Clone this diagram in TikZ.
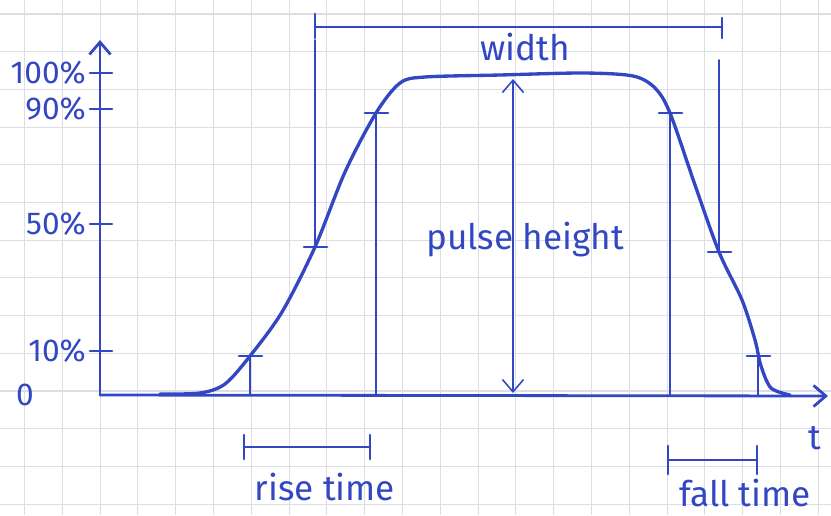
\documentclass[tikz,border=0pt]{standalone}
\usepackage{fontspec}
\setmainfont{Fira Sans}
\usetikzlibrary{arrows.meta}
\definecolor{ink}{HTML}{3347C2}
\definecolor{paper}{HTML}{DDDEE4}

\begin{document}
\begin{tikzpicture}[x=0.02cm,y=-0.02cm,
    pen/.style={ink,line width=1.6pt,line cap=round},
    fine/.style={ink,line width=0.9pt,line cap=round},
    barb/.style={-{Straight Barb[length=7pt,width=12pt]}},
    lbl/.style={ink,font=\fontsize{20}{24}\selectfont},
    pct/.style={ink,font=\fontsize{18}{21}\selectfont,anchor=east}]
    \useasboundingbox (0,0) rectangle (831,515);
    % squared paper
    \foreach \i in {0,...,21}
      \draw[paper,line width=0.6pt] (24.5+37.8*\i,0) -- ++(0,515);
    \foreach \j in {0,...,13}
      \draw[paper,line width=0.6pt] (0,14+37.7*\j) -- ++(831,0);

    % axes
    \coordinate (o) at (100,395);
    \coordinate (ytop) at (100,40);
    \coordinate (xend) at (828,396);
    \draw[pen,barb] (o) -- (ytop);
    \draw[pen,barb] (o) -- (xend);
    \node[ink,font=\fontsize{18}{21}\selectfont] (zero) at (25,395) {0};
    \node[lbl] (t) at (815,438) {t};
    \foreach \y/\txt in {73/100\%,109/90\%,224/50\%,351/10\%} {
      \draw[pen] (90,\y) -- (112,\y);
      \node[pct] (lab\y) at (92,\y) {\txt};
    }

    % pulse and its crossing points
    \coordinate (r10) at (250,356);
    \coordinate (r50) at (315,247);
    \coordinate (r90) at (376,113);
    \coordinate (f90) at (670,113);
    \coordinate (f50) at (719,252);
    \coordinate (f10) at (758,356);
    \draw[pen,line width=1.9pt]
      plot[smooth] coordinates {
        (160,394) (200,393) (225,384) (250,356) (282,312)
        (315,247) (345,172) (376,113) (400,83)
        (425,77) (500,75) (583,73) (633,76) (655,88) (670,113)
        (695,185) (719,252) (742,300) (755,340) (761,366)
        (771,388) (790,395)
      };
    \foreach \c in {r10,r50,r90,f90,f50,f10}
      \draw[pen] (\c) ++(-11,0) -- ++(23,0);
    \foreach \c in {r10,r90,f90,f10}
      \draw[fine] (\c) -- (\c |- o);

    % width
    \coordinate (wl) at (315,27);
    \coordinate (wr) at (722,27);
    \draw[fine] (r50) -- (r50 |- 0,40);
    \draw[fine] (f50) -- (f50 |- 0,60);
    \draw[pen] (wl) -- (wr);
    \draw[pen] (wl) ++(0,-13) -- ++(0,24);
    \draw[pen] (wr) ++(0,-9) -- ++(0,20);
    \node[lbl] (width) at (525,47) {width};

    % pulse height
    \coordinate (ptop) at (513,79);
    \coordinate (pbot) at (513,393);
    \draw[fine,{Straight Barb[length=7pt,width=12pt]}-{Straight Barb[length=7pt,width=12pt]}] (pbot) -- (ptop);
    \node[lbl] (height) at (525,240) {pulse height};

    % rise and fall time
    \coordinate (rl) at (244,447);
    \coordinate (rr) at (370,447);
    \draw[pen] (rl) -- (rr);
    \draw[pen] (rl) ++(0,-12) -- ++(0,24);
    \draw[pen] (rr) ++(0,-12) -- ++(0,24);
    \node[lbl] (rise) at (325,487) {rise time};
    \coordinate (fl) at (668,460);
    \coordinate (fr) at (757,460);
    \draw[pen] (fl) -- (fr);
    \draw[pen] (fl) ++(0,-14) -- ++(0,28);
    \draw[pen] (fr) ++(0,-14) -- ++(0,28);
    \node[lbl] (fall) at (745,493) {fall time};
\end{tikzpicture}
\end{document}
